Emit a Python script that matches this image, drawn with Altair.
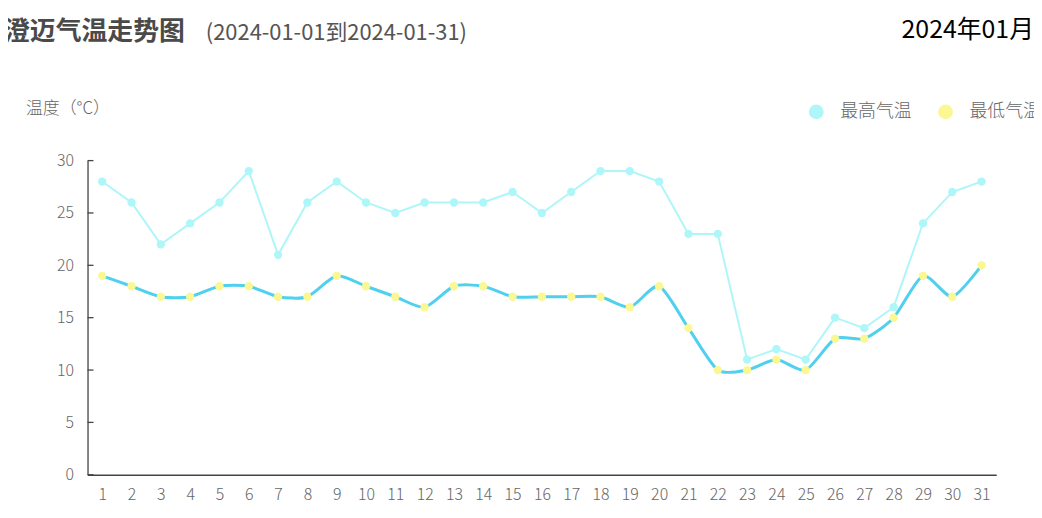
import altair as alt
import pandas as pd

days = list(range(1, 32))
high = [28, 26, 22, 24, 26, 29, 21, 26, 28, 26, 25, 26, 26, 26, 27, 25, 27, 29, 29, 28,
        23, 23, 11, 12, 11, 15, 14, 16, 24, 27, 28]
low = [19, 18, 17, 17, 18, 18, 17, 17, 19, 18, 17, 16, 18, 18, 17, 17, 17, 17, 16, 18,
       14, 10, 10, 11, 10, 13, 13, 15, 19, 17, 20]
series_names = ["最高气温", "最低气温"]
y_ticks = [0, 5, 10, 15, 20, 25, 30]

title_text = "澄迈气温走势图"
subtitle_text = "(2024-01-01到2024-01-31)"
month_text = "2024年01月"
y_title = "温度（°C）"

HIGH_C = "#aef6f8"
LOW_LINE_C = "#4fd0ee"
LOW_PT_C = "#fbf792"
FONT = "Noto Sans CJK SC"

df = pd.DataFrame({
    "day": days * 2,
    "temp": high + low,
    "series": [series_names[0]] * len(days) + [series_names[1]] * len(days),
})

x_enc = alt.X("day:O", scale=alt.Scale(type="point", padding=0.5),
              axis=alt.Axis(title=None, labelAngle=0, ticks=False, domain=True,
                            domainColor="#444", domainWidth=1.3, labelColor="#666",
                            labelFontSize=16, labelFont=FONT, labelFontWeight=300,
                            labelPadding=12, grid=False))
y_axis = alt.Axis(title=None, values=y_ticks, ticks=False, domain=True,
                  domainColor="#444", domainWidth=1.3, labelColor="#666",
                  labelFontSize=16, labelFont=FONT, labelFontWeight=300,
                  labelPadding=14, grid=False)
y_scale = alt.Scale(domain=[0, 30], nice=False)
y_enc = alt.Y("temp:Q", scale=y_scale, axis=y_axis)

base = alt.Chart(df)

high_line = base.transform_filter(alt.datum.series == series_names[0]).mark_line(
    color=HIGH_C, strokeWidth=2).encode(x=x_enc, y=y_enc)
low_line = base.transform_filter(alt.datum.series == series_names[1]).mark_line(
    color=LOW_LINE_C, strokeWidth=3, interpolate="cardinal", tension=0.3).encode(x=x_enc, y=y_enc)

points = base.mark_circle(size=70, opacity=1).encode(
    x=x_enc, y=y_enc,
    color=alt.Color("series:N",
                    scale=alt.Scale(domain=series_names, range=[HIGH_C, LOW_PT_C]),
                    legend=alt.Legend(title=None, orient="none", direction="horizontal",
                                      legendX=724, legendY=-58, symbolSize=220,
                                      symbolType="circle", labelFontSize=18,
                                      labelFont=FONT, labelFontWeight=300,
                                      labelColor="#666", labelOffset=15,
                                      columnPadding=25, symbolStrokeWidth=0)),
)

tick_df = pd.DataFrame({"temp": y_ticks})
yticks = alt.Chart(tick_df).mark_rule(color="#444", strokeWidth=1.3).encode(
    y=y_enc, x=alt.value(0), x2=alt.value(6))

def txt(s, x, y, size, color, weight="normal", align="left"):
    return alt.Chart(pd.DataFrame({"t": [s]})).mark_text(
        fontSize=size, font=FONT, fontWeight=weight, color=color, align=align,
        baseline="middle").encode(x=alt.value(x), y=alt.value(y), text="t:N")

texts = [
    txt(title_text, -84, -129, 26, "#4a4a4a", "bold"),
    txt(subtitle_text, 119, -128, 22, "#555"),
    txt(month_text, 952, -131, 25, "#000", "normal", "right"),
    txt(y_title, -62, -52, 17, "#666", 300),
]

chart = alt.layer(high_line, low_line, points, yticks, *texts).properties(
    width=914, height=316,
    autosize=alt.AutoSizeParams(type="none"),
    padding={"left": 80, "top": 152, "right": 38, "bottom": 40},
).configure_view(stroke=None)

chart.save("out.html", embed_options={"renderer": "svg", "actions": False})
